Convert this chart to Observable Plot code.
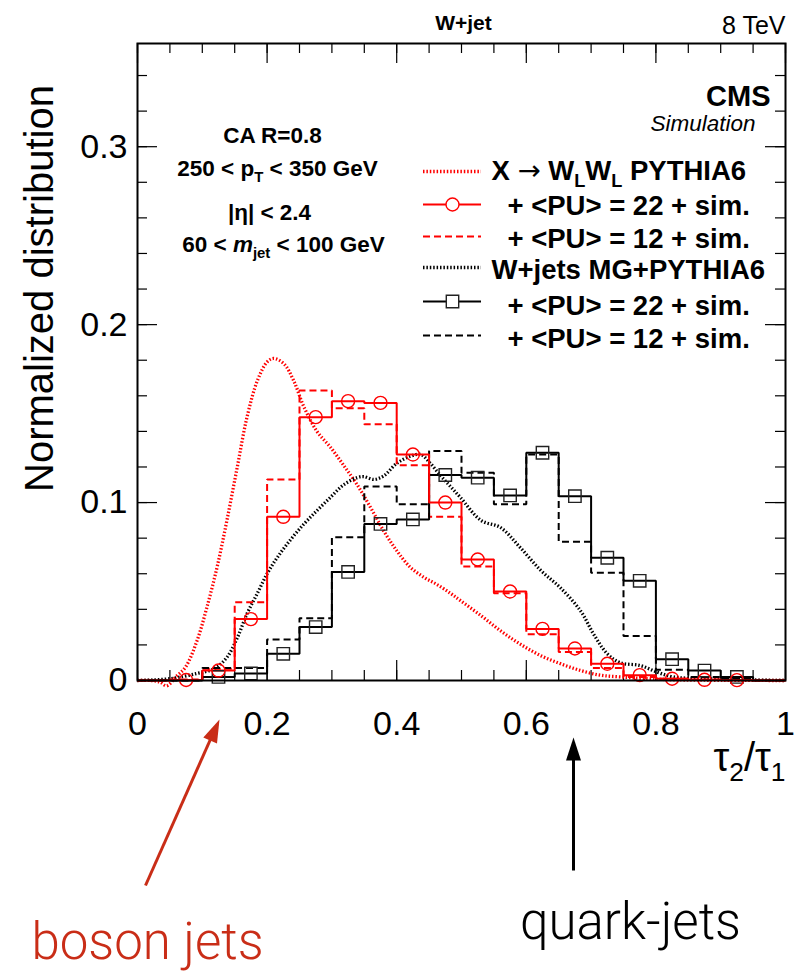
<!DOCTYPE html>
<html><head><meta charset="utf-8">
<script src="https://cdn.jsdelivr.net/npm/d3@7"></script>
<script src="https://cdn.jsdelivr.net/npm/@observablehq/plot@0.6"></script>
<style>body{margin:0;background:#fff}#chart{width:798px;height:977px}</style>
</head><body><div id="chart"></div><script>
// ---------- data ----------
const binEdges = [0,0.05,0.1,0.15,0.2,0.25,0.3,0.35,0.4,0.45,0.5,0.55,0.6,0.65,0.7,0.75,0.8,0.85,0.9,0.95,1];
const wlwlPU22 = [0,0.0003,0.0056,0.0345,0.092,0.148,0.157,0.156,0.127,0.100,0.068,0.050,0.029,0.018,0.0094,0.003,0.001,0.0004,0.0002,0];
const wlwlPU12 = [0,0.0005,0.0066,0.044,0.113,0.163,0.153,0.144,0.121,0.092,0.064,0.049,0.026,0.016,0.007,0.002,0.001,0.0005,0.0002,0];
const wjetsPU22 = [0,0,0.002,0.004,0.015,0.030,0.061,0.088,0.0905,0.1155,0.114,0.104,0.128,0.1036,0.069,0.056,0.012,0.0056,0.002,0];
const wjetsPU12 = [0,0,0.007,0.007,0.023,0.035,0.0805,0.109,0.099,0.129,0.1167,0.099,0.127,0.078,0.0605,0.025,0.006,0.002,0.001,0];
const wlwlCurveX = [0,0.02,0.035,0.045,0.059,0.074,0.092,0.107,0.123,0.138,0.154,0.169,0.185,0.200,0.210,0.226,0.241,0.257,0.277,0.298,0.318,0.339,0.36,0.38,0.40,0.42,0.442,0.462,0.483,0.498,0.53,0.56,0.59,0.622,0.653,0.684,0.714,0.745,0.786,0.827,0.9,1.0];
const wlwlCurveY = [0,0,-0.001,-0.003,0.002,0.0075,0.0225,0.041,0.064,0.090,0.120,0.148,0.1685,0.179,0.181,0.178,0.1685,0.1536,0.140,0.131,0.121,0.110,0.097,0.084,0.073,0.064,0.058,0.054,0.049,0.045,0.0365,0.028,0.0206,0.014,0.0094,0.0056,0.003,0.002,0.001,0.0004,0.0001,0];
const wjetsCurveX = [0,0.05,0.092,0.118,0.138,0.154,0.169,0.185,0.20,0.2155,0.236,0.257,0.277,0.298,0.318,0.339,0.349,0.365,0.38,0.40,0.421,0.437,0.452,0.468,0.483,0.498,0.53,0.56,0.59,0.622,0.653,0.684,0.704,0.725,0.745,0.776,0.802,0.827,0.879,0.95,1.0];
const wjetsCurveY = [0,0.001,0.004,0.0066,0.013,0.024,0.0375,0.049,0.060,0.069,0.079,0.088,0.0955,0.103,0.110,0.114,0.1146,0.113,0.115,0.122,0.126,0.127,0.122,0.115,0.109,0.103,0.090,0.086,0.075,0.062,0.052,0.039,0.026,0.015,0.010,0.0084,0.0047,0.002,0.001,0.0003,0];
const xTickLabels = [0,0.2,0.4,0.6,0.8,1];
const yTickLabels = [0,0.1,0.2,0.3];
const legendLabels = ["X #sym{→} W_{L}W_{L} PYTHIA6","+ <PU> = 22 + sim.","+ <PU> = 12 + sim.","W+jets MG+PYTHIA6","+ <PU> = 22 + sim.","+ <PU> = 12 + sim."];
const infoLines = ["CA R=0.8","250 < p_{T} < 350 GeV","|η| < 2.4","60 < #it{m}_{jet} < 100 GeV"];
const titleText = "W+jet", energyText = "8 TeV", cmsText = "CMS", simText = "Simulation";
const yTitle = "Normalized distribution", xTitle = "τ_{2}/τ_{1}";
const bosonText = "boson jets", quarkText = "quark-jets";

// ---------- layout ----------
const W=798,H=977,ML=137,MR=13,MT=43,MB=297,PW=W-ML-MR,PH=H-MT-MB,YMAX=0.358;
const X = px => (px-ML)/PW;
const Y = py => (H-MB-py)/PH*YMAX;
const RED="#ff0000", BLK="#000000", ANN_RED="#c92d17";
const DOTTED="1.5,1.9", DASHED="7,4";
const FONT="'Liberation Sans', Arial, Helvetica, sans-serif";

const steps = v => binEdges.map((e,i)=>({x:e, y:v[Math.min(i,v.length-1)]}));
const centers = v => v.map((y,i)=>({x:(binEdges[i]+binEdges[i+1])/2, y})).filter(d=>d.y>0);
const curve = (xs,ys) => xs.map((x,i)=>({x, y:ys[i]}));

const xMinor = d3.range(0,1.0001,0.05), xMajor = d3.range(0,1.0001,0.2);
const yMinor = d3.range(0,0.3501,0.02), yMajor = [0.1,0.2,0.3];

const headSymbol = {draw(ctx){ctx.moveTo(0,0);ctx.lineTo(-7.5,23);ctx.lineTo(7.5,23);ctx.closePath();}};

const legendRowsY = [171,204,236,267,301,335];
const legendBase = [179,214,247,278,314,347];
const legendTextX = [491,507,507,491,507,507];
const legendStyles = [
  {stroke:RED,dash:DOTTED,w:3.3},{stroke:RED,dash:null,w:2,sym:"circle"},{stroke:RED,dash:DASHED,w:2},
  {stroke:BLK,dash:DOTTED,w:3.3},{stroke:BLK,dash:null,w:2,sym:"square"},{stroke:BLK,dash:DASHED,w:2}
];
const legendMarks = legendLabels.flatMap((lab,i)=>{
  const st=legendStyles[i];
  const m=[Plot.ruleY([Y(legendRowsY[i])],{x1:X(423),x2:X(481),stroke:st.stroke,strokeWidth:st.w,strokeDasharray:st.dash,strokeLinecap:"butt"})];
  if(st.sym) m.push(Plot.dot([0],{x:X(452),y:Y(legendRowsY[i]),symbol:st.sym,r:st.sym==="circle"?6.5:7,stroke:st.sym==="circle"?RED:"#222",strokeWidth:1.4,fill:"white"}));
  m.push(Plot.text([lab],{x:X(legendTextX[i]),y:Y(legendBase[i]),text:d=>d,textAnchor:"start",lineAnchor:"bottom",fontSize:27.5,fontWeight:"bold",fill:BLK}));
  return m;
});
const infoCenters=[272,277,269,283], infoBase=[142,175,219,251];
const infoMarks = infoLines.map((t,i)=>Plot.text([t],{x:X(infoCenters[i]),y:Y(infoBase[i]),text:d=>d,lineAnchor:"bottom",fontSize:22.5,fontWeight:"bold"}));

const lineStyle = {strokeLinecap:"butt",strokeLinejoin:"miter"};

const chart = Plot.plot({
  width:W,height:H,marginLeft:ML,marginRight:MR,marginTop:MT,marginBottom:MB,
  x:{domain:[0,1],axis:null},
  y:{domain:[0,YMAX],axis:null},
  style:{fontFamily:FONT,background:"white",overflow:"visible",color:"black"},
  marks:[
    // ticks (inward, mirrored)
    Plot.tickX(xMinor,{x:d=>d,insetTop:PH-10,stroke:BLK,strokeWidth:1.2}),
    Plot.tickX(xMinor,{x:d=>d,insetBottom:PH-10,stroke:BLK,strokeWidth:1.2}),
    Plot.tickX(xMajor,{x:d=>d,insetTop:PH-20,stroke:BLK,strokeWidth:1.2}),
    Plot.tickX(xMajor,{x:d=>d,insetBottom:PH-20,stroke:BLK,strokeWidth:1.2}),
    Plot.tickY(yMinor,{y:d=>d,insetRight:PW-10,stroke:BLK,strokeWidth:1.2}),
    Plot.tickY(yMinor,{y:d=>d,insetLeft:PW-10,stroke:BLK,strokeWidth:1.2}),
    Plot.tickY(yMajor,{y:d=>d,insetRight:PW-20,stroke:BLK,strokeWidth:1.2}),
    Plot.tickY(yMajor,{y:d=>d,insetLeft:PW-20,stroke:BLK,strokeWidth:1.2}),
    // smooth curves
    Plot.line(curve(wlwlCurveX,wlwlCurveY),{x:"x",y:"y",curve:"catmull-rom",stroke:RED,strokeWidth:3.3,strokeDasharray:DOTTED,...lineStyle}),
    Plot.line(curve(wjetsCurveX,wjetsCurveY),{x:"x",y:"y",curve:"catmull-rom",stroke:BLK,strokeWidth:3.3,strokeDasharray:DOTTED,...lineStyle}),
    // histograms
    Plot.line(steps(wlwlPU12),{x:"x",y:"y",curve:"step-after",stroke:RED,strokeWidth:2,strokeDasharray:DASHED,...lineStyle}),
    Plot.line(steps(wjetsPU12),{x:"x",y:"y",curve:"step-after",stroke:BLK,strokeWidth:2,strokeDasharray:DASHED,...lineStyle}),
    Plot.line(steps(wjetsPU22),{x:"x",y:"y",curve:"step-after",stroke:BLK,strokeWidth:2,...lineStyle}),
    Plot.line(steps(wlwlPU22),{x:"x",y:"y",curve:"step-after",stroke:RED,strokeWidth:2,...lineStyle}),
    Plot.dot(centers(wjetsPU22),{x:"x",y:"y",symbol:"square",r:7,stroke:"#222",strokeWidth:1.4,fill:"none"}),
    Plot.dot(centers(wlwlPU22),{x:"x",y:"y",symbol:"circle",r:6.5,stroke:RED,strokeWidth:1.4,fill:"none"}),
    // tick labels
    Plot.text(xTickLabels,{x:d=>d,y:0,dy:54,text:d=>String(d),lineAnchor:"bottom",fontSize:34}),
    Plot.text(yTickLabels,{x:0,y:d=>d,dx:-10,text:d=>String(d),textAnchor:"end",fontSize:34}),
    // titles
    Plot.text([yTitle],{x:X(40),y:Y(288),text:d=>d,rotate:-90,fontSize:40}),
    Plot.text([xTitle],{x:X(785),y:Y(770),text:d=>d,textAnchor:"end",lineAnchor:"bottom",fontSize:40}),
    Plot.text([titleText],{x:X(463),y:Y(29),text:d=>d,lineAnchor:"bottom",fontSize:21,fontWeight:"bold"}),
    Plot.text([energyText],{x:X(785),y:Y(33),text:d=>d,textAnchor:"end",lineAnchor:"bottom",fontSize:25}),
    Plot.text([cmsText],{x:X(770),y:Y(105),text:d=>d,textAnchor:"end",lineAnchor:"bottom",fontSize:29,fontWeight:"bold"}),
    Plot.text([simText],{x:X(755),y:Y(130),text:d=>d,textAnchor:"end",lineAnchor:"bottom",fontSize:22.5,fontStyle:"italic"}),
    ...infoMarks,
    ...legendMarks,
    // annotations
    Plot.link([0],{x1:X(145),y1:Y(885),x2:X(213),y2:Y(732),stroke:ANN_RED,strokeWidth:3}),
    Plot.dot([0],{x:X(219),y:Y(719),symbol:headSymbol,rotate:24,fill:ANN_RED,stroke:"none"}),
    Plot.link([0],{x1:X(573),y1:Y(870),x2:X(573),y2:Y(750),stroke:BLK,strokeWidth:3}),
    Plot.dot([0],{x:X(573),y:Y(737),symbol:headSymbol,fill:BLK,stroke:"none"}),
    Plot.text([bosonText],{x:X(147),y:Y(958),text:d=>d,lineAnchor:"bottom",fontSize:51,fontFamily:"Roboto, 'Liberation Sans', sans-serif",fontWeight:300,fill:ANN_RED}),
    Plot.text([quarkText],{x:X(630),y:Y(938),text:d=>d,lineAnchor:"bottom",fontSize:51,fontFamily:"Roboto, 'Liberation Sans', sans-serif",fontWeight:300,fill:BLK}),
    Plot.frame({stroke:BLK,strokeWidth:2})
  ]
});
document.getElementById("chart").appendChild(chart);

// rich text: _{sub}, #it{italic}, #sym{symbol}
(function richify(svg){
  const ns="http://www.w3.org/2000/svg";
  svg.querySelectorAll("text").forEach(t=>{
    const s=t.textContent;
    if(!/_\{|#it\{|#sym\{/.test(s)) return;
    const fs=parseFloat(getComputedStyle(t).fontSize)||16;
    while(t.firstChild) t.removeChild(t.firstChild);
    const parts=s.split(/(_\{[^}]*\}|#it\{[^}]*\}|#sym\{[^}]*\})/).filter(p=>p.length);
    let shifted=0;
    for(const p of parts){
      const ts=document.createElementNS(ns,"tspan");
      if(p.startsWith("_{")){
        ts.textContent=p.slice(2,-1);
        ts.setAttribute("font-size",(fs*0.66).toFixed(1));
        ts.setAttribute("dy",(fs*0.27-shifted).toFixed(1));
        shifted=fs*0.27;
      } else {
        let txt=p;
        if(p.startsWith("#it{")){txt=p.slice(4,-1);ts.setAttribute("font-style","italic");}
        else if(p.startsWith("#sym{")){txt=p.slice(5,-1);ts.setAttribute("font-family","'DejaVu Sans', sans-serif");ts.setAttribute("font-weight","normal");}
        ts.textContent=txt;
        if(shifted){ts.setAttribute("dy",(-shifted).toFixed(1));shifted=0;}
      }
      t.appendChild(ts);
    }
  });
})(chart);
</script></body></html>
